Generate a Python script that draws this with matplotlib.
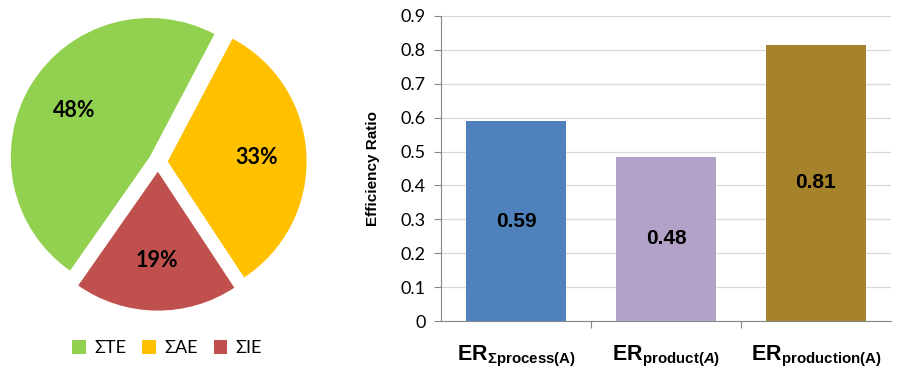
import matplotlib.pyplot as plt

plt.rcParams["mathtext.fontset"] = "custom"
plt.rcParams["mathtext.rm"] = "Liberation Sans"
plt.rcParams["mathtext.bf"] = "Liberation Sans:bold"
plt.rcParams["mathtext.bfit"] = "Liberation Sans:bold:italic"

# pie data
pie_labels = ["ΣTE", "ΣAE", "ΣIE"]
pie_values = [48, 33, 19]
pie_colors = ["#92D050", "#FFC000", "#C0504D"]

# bar data
bar_labels = [
    r"$\mathbf{ER}_{\mathbf{\Sigma process(A)}}$",
    r"$\mathbf{ER}_{\mathbf{product(}\mathbfit{A}\mathbf{)}}$",
    r"$\mathbf{ER}_{\mathbf{production(A)}}$",
]
bar_values = [0.59, 0.485, 0.815]
bar_text = ["0.59", "0.48", "0.81"]
bar_colors = ["#4F81BD", "#B3A2C7", "#A6832A"]

fig = plt.figure(figsize=(9, 3.72), dpi=100)

# ---- pie ----
ax1 = fig.add_axes([8 / 900, 60 / 372, 300 / 900, 300 / 372])
wedges, _, autotexts = ax1.pie(
    pie_values, colors=pie_colors, startangle=-125, counterclock=False,
    explode=[0.07, 0.07, 0.07], autopct="%d%%", pctdistance=0.64,
    wedgeprops=dict(linewidth=0),
    textprops=dict(fontsize=15.5, fontweight="bold", family="Lato"),
)
ax1.set_xlim(-1.08, 1.08)
ax1.set_ylim(-1.08, 1.08)
ax1.set_aspect("equal")
ax1.legend(wedges, pie_labels, loc="upper center", bbox_to_anchor=(0.53, -0.04),
           ncol=3, frameon=False, prop=dict(family="Lato", size=13),
           handlelength=0.75, handleheight=0.75, columnspacing=0.9, handletextpad=0.45)

# ---- bars ----
ax2 = fig.add_axes([441 / 900, 51 / 372, 450 / 900, 305 / 372])
x = range(len(bar_values))
bars = ax2.bar(x, bar_values, width=0.667, color=bar_colors, zorder=3)
for b, t in zip(bars, bar_text):
    ax2.text(b.get_x() + b.get_width() / 2, b.get_height() / 2, t,
             ha="center", va="center", fontsize=15, fontweight="bold",
             family="Liberation Sans", zorder=4)
ax2.set_xlim(-0.5, 2.5)
ax2.set_ylim(0, 0.9)
ax2.set_yticks([i / 10 for i in range(10)])
ax2.set_yticklabels(["0"] + [f"{i / 10:.1f}" for i in range(1, 10)],
                    fontsize=13, family="Lato")
ax2.set_xticks([0.5, 1.5], minor=False)
ax2.set_xticklabels([])
ax2.tick_params(axis="x", length=5, color="#868686", direction="out")
ax2.tick_params(axis="y", length=5, color="#868686", direction="out", pad=6)
for i, lab in enumerate(bar_labels):
    ax2.text(i, -0.105, lab, ha="center", va="center", fontsize=15.5,
             transform=ax2.transData)
ax2.grid(axis="y", color="#D9D9D9", linewidth=0.9, zorder=0)
for s in ["top", "right"]:
    ax2.spines[s].set_visible(False)
for s in ["left", "bottom"]:
    ax2.spines[s].set_color("#868686")
ax2.set_ylabel("Efficiency Ratio", fontsize=11, fontweight="bold",
               family="Liberation Sans", labelpad=15)

fig.savefig("out.png", dpi=100)
